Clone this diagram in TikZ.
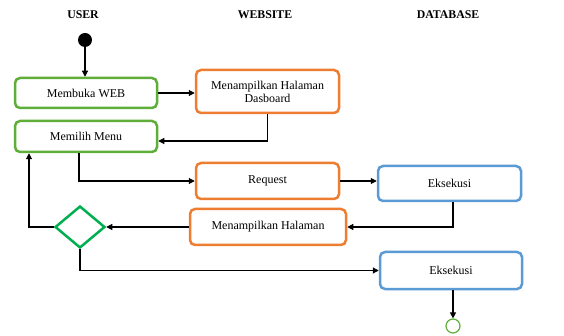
\documentclass[tikz,border=0pt]{standalone}
\usepackage{fontspec}
\setmainfont{Liberation Serif}
\usetikzlibrary{shapes.geometric,arrows.meta}
\definecolor{ugreen}{HTML}{5FAE3A}
\definecolor{dgreen}{HTML}{00B050}
\definecolor{uorange}{HTML}{ED7D31}
\definecolor{ublue}{HTML}{5B9BD5}
\begin{document}
\begin{tikzpicture}[x=1pt,y=-1pt,
  box/.style={draw,line width=2.5pt,rounded corners=5pt,fill=white,inner sep=0pt,align=center,font=\fontsize{12}{13}\selectfont},
  greenbox/.style={box,draw=ugreen},
  orangebox/.style={box,draw=uorange},
  bluebox/.style={box,draw=ublue},
  title/.style={font=\fontsize{11.8}{13}\selectfont\bfseries},
  conn/.style={line width=1.1pt,-{Triangle[length=6pt,width=6pt]}}]
\useasboundingbox (0,0) rectangle (564,336);
\node[title] (tu) at (83,15) {USER};
\node[title] (tw) at (265,15) {WEBSITE};
\node[title] (td) at (448,15) {DATABASE};
\node[circle,fill=black,minimum size=14pt,inner sep=0pt] (start) at (85,40) {};
\node[greenbox,minimum width=142pt,minimum height=30pt] (web) at (86,93) {Membuka WEB};
\node[orangebox,minimum width=143pt,minimum height=43pt] (dash) at (267.5,91.5) {Menampilkan Halaman\\Dasboard};
\node[greenbox,minimum width=142pt,minimum height=31pt] (menu) at (86,136.5) {Memilih Menu};
\node[orangebox,minimum width=143pt,minimum height=36pt] (req) at (267.5,181) {Request};
\node[bluebox,minimum width=143pt,minimum height=35pt] (eks1) at (449.5,183.5) {Eksekusi};
\node[orangebox,minimum width=156pt,minimum height=36pt] (hal) at (268,227) {Menampilkan Halaman};
\node[diamond,draw=dgreen,line width=2.5pt,fill=white,minimum width=50pt,minimum height=42pt,inner sep=0pt] (dec) at (80,227) {};
\node[bluebox,minimum width=142pt,minimum height=37pt] (eks2) at (451,270.5) {Eksekusi};
\node[circle,draw=ugreen,line width=1.2pt,minimum size=14pt,inner sep=0pt] (end) at (453,326) {};
\draw[conn] (start) -- (web.north -| start);
\draw[conn] (web.east) -- (web.east -| dash.west);
\draw[conn] (dash.south) |- (menu.east |- 0,141);
\draw[conn] (menu.south -| 79,0) |- (req.west);
\draw[conn] (req.east) -- (req.east -| eks1.west);
\draw[conn] (eks1.south -| 453,0) |- (hal.east);
\draw[conn] (hal) -- (dec);
\draw[conn] (dec.west) -| (menu.south -| 29,0);
\draw[conn] (dec.south) |- (eks2.west);
\draw[conn] (eks2.south -| end) -- (end);
\end{tikzpicture}
\end{document}
